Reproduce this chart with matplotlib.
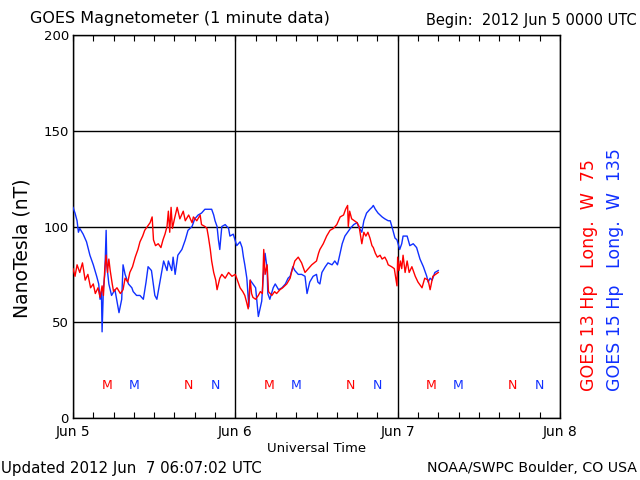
import matplotlib
matplotlib.use("Agg")
import matplotlib.pyplot as plt
import numpy as np

# ---- data (hours since 2012 Jun 5 00:00 UT, nT) ----
red_data = [
    (0, 78), (0.3, 74), (0.6, 80), (1.0, 76), (1.4, 81), (1.8, 72), (2.2, 75), (2.6, 68),
    (3.0, 70), (3.3, 65), (3.7, 68), (4.0, 63), (4.3, 69), (4.5, 64), (4.7, 78), (4.9, 85),
    (5.1, 76), (5.3, 83), (5.5, 77), (5.8, 70), (6.0, 66), (6.5, 68), (7.0, 65), (7.4, 67),
    (7.7, 73), (8.1, 71), (8.4, 76), (8.8, 79), (9.2, 84), (9.6, 88), (9.9, 92), (10.3, 95),
    (10.6, 98), (11.0, 100), (11.4, 102), (11.7, 105), (11.9, 93), (12.2, 90), (12.6, 91),
    (13.0, 89), (13.3, 93), (13.6, 96), (13.9, 100), (14.1, 108), (14.3, 97), (14.5, 110),
    (14.7, 99), (15.0, 104), (15.4, 110), (15.8, 104), (16.3, 108), (16.6, 103), (17.1, 106),
    (17.6, 102), (17.8, 105), (18.3, 103), (18.8, 106), (19.0, 101), (19.5, 100), (19.8, 99),
    (20.0, 95), (20.3, 88), (20.5, 82), (20.8, 76), (21.1, 72), (21.3, 67), (21.7, 73),
    (22.0, 75), (22.5, 73), (23.0, 76), (23.5, 74), (24.0, 75), (24.4, 71), (24.7, 68),
    (25.1, 66), (25.4, 64), (25.7, 60), (25.9, 57), (26.2, 72), (26.4, 65), (26.6, 63),
    (27.0, 62), (27.4, 64), (27.7, 66), (28.0, 65), (28.2, 88), (28.4, 75), (28.7, 80),
    (28.9, 66), (29.4, 64), (29.8, 66), (30.1, 65), (30.6, 67), (31.0, 68), (31.6, 70),
    (32.1, 73), (32.3, 76), (32.8, 82), (33.3, 84), (33.8, 81), (34.3, 76), (34.8, 78),
    (35.3, 80), (36.0, 82), (36.3, 86), (36.5, 88), (37.0, 91), (37.5, 95), (38.0, 98),
    (38.5, 99), (39.0, 101), (39.5, 105), (40.0, 106), (40.3, 109), (40.6, 111), (40.7, 100),
    (40.9, 108), (41.2, 104), (41.6, 103), (42.0, 102), (42.3, 100), (42.7, 91), (43.0, 97),
    (43.3, 95), (43.6, 97), (43.9, 94), (44.2, 90), (44.4, 89), (44.7, 86), (45.0, 84),
    (45.4, 85), (45.7, 83), (46.1, 84), (46.4, 82), (46.6, 80), (47.1, 79), (47.5, 78),
    (47.9, 69), (48.0, 84), (48.2, 77), (48.4, 82), (48.6, 78), (48.8, 85), (49.1, 76),
    (49.4, 82), (49.7, 76), (50.1, 79), (50.6, 74), (51.0, 71), (51.6, 68), (52.0, 73),
    (52.5, 72), (52.8, 67), (53.2, 74), (53.6, 75), (54.0, 76),
]
blue_data = [
    (0, 110), (0.3, 107), (0.6, 103), (0.8, 97), (1.0, 99), (1.5, 96), (2.0, 92), (2.5, 85),
    (3.0, 80), (3.5, 74), (3.8, 70), (4.0, 62), (4.2, 66), (4.3, 45), (4.5, 68), (4.7, 75),
    (4.9, 98), (5.0, 80), (5.3, 70), (5.7, 64), (6.2, 67), (6.5, 61), (6.8, 55), (7.2, 62),
    (7.4, 80), (7.7, 75), (8.2, 70), (8.7, 68), (8.9, 66), (9.4, 64), (9.9, 64), (10.4, 62),
    (10.8, 71), (11.1, 79), (11.6, 77), (12.1, 64), (12.4, 62), (12.9, 72), (13.1, 76),
    (13.4, 82), (13.6, 80), (13.9, 77), (14.1, 82), (14.3, 80), (14.6, 77), (14.8, 84),
    (15.1, 75), (15.5, 85), (16.1, 88), (16.6, 93), (17.0, 98), (17.6, 100), (18.0, 104),
    (18.5, 106), (19.0, 107), (19.5, 109), (20.0, 109), (20.5, 109), (20.8, 106), (21.0, 103),
    (21.3, 100), (21.5, 93), (21.7, 88), (22.0, 100), (22.5, 101), (23.0, 99), (23.2, 95),
    (23.7, 96), (24.2, 90), (24.7, 92), (25.0, 89), (25.2, 84), (25.4, 80), (25.7, 73),
    (26.0, 58), (26.2, 72), (26.6, 70), (27.0, 68), (27.4, 53), (27.9, 61), (28.1, 72),
    (28.4, 86), (28.7, 78), (28.8, 65), (29.1, 62), (29.6, 68), (29.9, 70), (30.4, 67),
    (30.9, 68), (31.4, 70), (31.8, 73), (32.1, 74), (32.5, 79), (32.8, 77), (33.3, 75),
    (33.8, 75), (34.3, 74), (34.6, 65), (35.0, 71), (35.5, 74), (36.0, 75), (36.2, 71),
    (36.5, 70), (36.8, 76), (37.3, 79), (37.7, 81), (38.3, 80), (38.7, 82), (39.1, 80),
    (39.3, 83), (39.8, 91), (40.2, 95), (40.6, 97), (41.0, 99), (41.5, 101), (42.0, 102),
    (42.2, 100), (42.7, 97), (43.0, 103), (43.4, 107), (43.9, 109), (44.2, 110), (44.4, 111),
    (44.7, 109), (45.1, 107), (45.7, 105), (46.1, 104), (46.6, 103), (46.9, 103), (47.3, 98),
    (47.6, 94), (47.9, 93), (48.3, 88), (48.6, 91), (48.8, 95), (49.4, 95), (49.8, 90),
    (50.3, 91), (50.8, 89), (51.3, 83), (51.8, 79), (52.3, 74), (52.5, 71), (52.8, 73),
    (53.1, 72), (53.5, 76), (54.0, 77),
]
red_m_hours = [5, 29, 53]
red_n_hours = [17, 41, 65]
blue_m_hours = [9, 33, 57]
blue_n_hours = [21, 45, 69]
mn_level = 17
day_ticks = [0, 24, 48, 72]
day_labels = ["Jun 5", "Jun 6", "Jun 7", "Jun 8"]
y_ticks = [0, 50, 100, 150, 200]

RED = "#ff0000"
BLUE = "#1030ff"

fig = plt.figure(figsize=(6.4, 4.8), dpi=100)
ax = fig.add_axes([73/640, 1-418/480, (560-73)/640, (418-35)/480])

rh, rv = zip(*red_data)
bh, bv = zip(*blue_data)
ax.plot(bh, bv, color=BLUE, lw=1.0, zorder=3)
ax.plot(rh, rv, color=RED, lw=1.0, zorder=3)

for h in red_m_hours:
    ax.text(h, mn_level, "M", color=RED, ha="center", va="center", fontsize=9)
for h in red_n_hours:
    ax.text(h, mn_level, "N", color=RED, ha="center", va="center", fontsize=9)
for h in blue_m_hours:
    ax.text(h, mn_level, "M", color=BLUE, ha="center", va="center", fontsize=9)
for h in blue_n_hours:
    ax.text(h, mn_level, "N", color=BLUE, ha="center", va="center", fontsize=9)

ax.set_xlim(0, 72)
ax.set_ylim(0, 200)
ax.set_xticks(day_ticks)
ax.set_xticklabels(day_labels, fontsize=10)
ax.set_xticks(np.arange(0, 73, 3), minor=True)
ax.set_yticks(y_ticks)
ax.set_yticklabels([str(v) for v in y_ticks], fontsize=9.5)
ax.tick_params(axis="x", which="both", direction="in", top=True, bottom=True, length=4, width=0.8, pad=5)
ax.tick_params(axis="y", which="both", length=0, pad=3)
ax.grid(True, which="major", color="black", lw=1.0)
for s in ax.spines.values():
    s.set_linewidth(1.0)

ax.set_xlabel("Universal Time", fontsize=9.5, labelpad=2)
fig.text(22/640, 1-248/480, "NanoTesla (nT)", rotation=90, ha="center", va="center", fontsize=13.5)

fig.text(30/640, 1-18/480, "GOES Magnetometer (1 minute data)", ha="left", va="center", fontsize=11.5)
fig.text(637/640, 1-20/480, "Begin:  2012 Jun 5 0000 UTC", ha="right", va="center", fontsize=10.5)
fig.text(1/640, 1-468/480, "Updated 2012 Jun  7 06:07:02 UTC", ha="left", va="center", fontsize=10.8)
fig.text(637/640, 1-468/480, "NOAA/SWPC Boulder, CO USA", ha="right", va="center", fontsize=10.2)

fig.text(589/640, 1-391/480, "GOES 13 Hp   Long.  W  75", rotation=90, ha="center", va="bottom", fontsize=12.5, color=RED)
fig.text(615/640, 1-391/480, "GOES 15 Hp   Long.  W  135", rotation=90, ha="center", va="bottom", fontsize=12.5, color=BLUE)

fig.savefig("out.png", dpi=100)
